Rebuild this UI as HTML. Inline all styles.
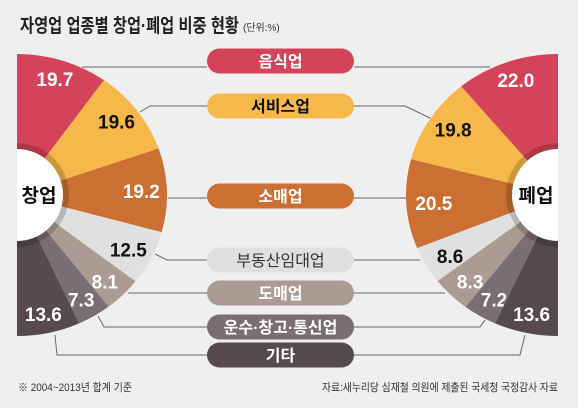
<!DOCTYPE html>
<html><head><meta charset="utf-8"><style>
html,body{margin:0;padding:0;background:#efefef;}
svg{display:block;font-family:"Liberation Sans","Noto Sans CJK KR",sans-serif;}
</style></head><body>
<svg width="578" height="408" viewBox="0 0 578 408">
<defs>
<clipPath id="clipL"><rect x="17" y="0" width="300" height="408"/></clipPath>
<clipPath id="clipR"><rect x="250" y="0" width="308" height="408"/></clipPath>
</defs>
<rect width="578" height="408" fill="#efefef"/>
<text x="20" y="32" font-size="19" font-weight="bold" fill="#222" textLength="219" lengthAdjust="spacingAndGlyphs">자영업 업종별 창업·폐업 비중 현황</text>
<text x="243" y="31" font-size="10" fill="#333">(단위:%)</text>
<g id="lines" stroke="#666" stroke-width="1" fill="none"></g>
<g id="pies"></g>
<g id="pills"></g>
<text x="18" y="391" font-size="11" fill="#333" textLength="114" lengthAdjust="spacingAndGlyphs">※ 2004~2013년 합계 기준</text>
<text x="558" y="391" font-size="11" fill="#333" text-anchor="end" textLength="236" lengthAdjust="spacingAndGlyphs">자료:새누리당 심재철 의원에 제출된 국세청 국정감사 자료</text>
</svg>
<script>
const categories = ["음식업","서비스업","소매업","부동산임대업","도매업","운수·창고·통신업","기타"];
const startupValues = [19.7,19.6,19.2,12.5,8.1,7.3,13.6];
const closureValues = [22.0,19.8,20.5,8.6,8.3,7.2,13.6];
const colors = ["#d5435a","#f6b84a","#cb6f33","#dfe0df","#ab9b93","#7b6d74","#574a4f"];
const textColors = ["#fff","#111","#fff","#111","#fff","#fff","#fff"];
const pillText = ["#fff","#111","#fff","#333","#fff","#fff","#fff"];
const NS="http://www.w3.org/2000/svg";
const pillY=[61,106,196,260,293,327,355];
const pies=document.getElementById('pies');
function mk(tag,attrs,parent){const e=document.createElementNS(NS,tag);for(const k in attrs)e.setAttribute(k,attrs[k]);parent.appendChild(e);return e;}
function drawPie(cx,cy,rx,ry,vals,dir,name,label,clip){
  const g=mk('g',{'clip-path':'url(#'+clip+')'},pies);
  
  
  const total=vals.reduce((a,b)=>a+b,0);
  let acc=0;
  vals.forEach((v,i)=>{
    const a0=acc/total*Math.PI, a1=(acc+v)/total*Math.PI; acc+=v;
    const p=a=>[cx+dir*rx*Math.sin(a), cy-ry*Math.cos(a)];
    const [x0,y0]=p(a0),[x1,y1]=p(a1);
    const path=mk('path',{d:`M${cx},${cy}L${x0},${y0}A${rx},${ry} 0 0 ${dir>0?1:0} ${x1},${y1}Z`,fill:colors[i]},g);
    
    
    const am=(a0+a1)/2, lr=122;
    const t=mk('text',{x:cx+dir*lr*1.02*Math.sin(am),y:cy-lr*Math.cos(am)+7,'font-size':19,'font-weight':'bold','text-anchor':'middle',fill:textColors[i]},g);
    t.textContent=v.toFixed(1);
    
    
  });
  mk('circle',{cx:cx,cy:cy,r:52,fill:'#000','fill-opacity':0.18},g);
  mk('circle',{cx:cx,cy:cy,r:46,fill:'#fff'},g);
  const t=mk('text',{x:cx+dir*22,y:cy+7,'font-size':19,'font-weight':'bold','text-anchor':'middle',fill:'#111'},g);
  t.textContent=label;
  
  
}
const lines=document.getElementById('lines');
const leftPts=[[[82,67],[207,67]],[[140,112],[150,106],[207,106]],[[168,198],[207,198]],[[155,254],[167,260],[207,260]],[[128,293],[207,293]],[[98,316],[104,327],[207,327]],[[55,335],[57,355],[207,355]]];
const rightPts=[[[354,67],[490,67]],[[354,106],[405,106],[430,118]],[[354,198],[406,198]],[[354,260],[420,260]],[[354,293],[445,293]],[[354,327],[480,327],[485,320]],[[354,355],[520,355],[525,335]]];
leftPts.concat(rightPts).forEach(pts=>{mk('polyline',{points:pts.map(p=>p.join(',')).join(' ')},lines);});
drawPie(17,195,150,141,startupValues,1,'startup-pie','창업','clipL');
drawPie(558,195,152,141,closureValues,-1,'closure-pie','폐업','clipR');
const pills=document.getElementById('pills');
categories.forEach((c,i)=>{
  const g=mk('g',{},pills);
  
  
  mk('rect',{x:207,y:pillY[i]-12.5,width:147,height:25,rx:12.5,fill:colors[i]},g);
  const t=mk('text',{x:280.5,y:pillY[i]+6,'font-size':16,'font-weight':i===3?'normal':'bold','text-anchor':'middle',fill:pillText[i]},g);
  t.textContent=c;
});
</script>
</body></html>
